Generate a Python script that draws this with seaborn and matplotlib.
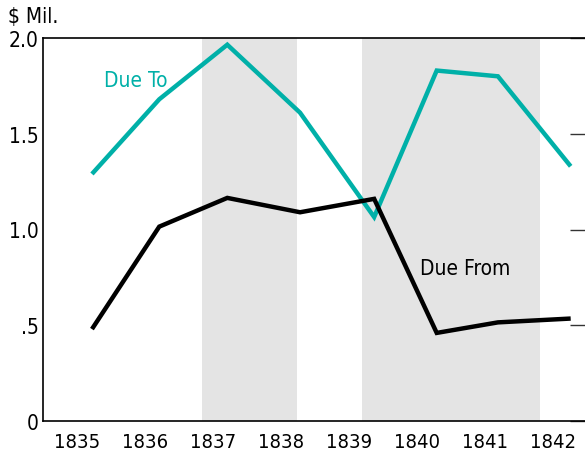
import matplotlib
matplotlib.use("Agg")
import matplotlib.pyplot as plt
import seaborn as sns
import pandas as pd
from matplotlib.ticker import FixedLocator, NullFormatter

# reporting dates (fraction of year) and values in $ millions
dates = [1835.72, 1836.71, 1837.71, 1838.78, 1839.87, 1840.79, 1841.69, 1842.76]
due_to = [1.29, 1.68, 1.965, 1.61, 1.065, 1.83, 1.80, 1.33]
due_from = [0.48, 1.015, 1.165, 1.09, 1.16, 0.46, 0.515, 0.535]

years = [1835, 1836, 1837, 1838, 1839, 1840, 1841, 1842]
shaded = [(1837.34, 1838.74), (1839.69, 1842.31)]
yticks = [0, 0.5, 1.0, 1.5, 2.0]
ylabels = ["0", ".5", "1.0", "1.5", "2.0"]

TEAL = "#00b0a8"

sns.set_style("white")
plt.rcParams["font.family"] = ["DejaVu Sans"]
plt.rcParams["font.stretch"] = "condensed"
plt.rcParams["text.color"] = "black"
plt.rcParams["xtick.color"] = "black"
plt.rcParams["ytick.color"] = "black"

df = pd.DataFrame({"date": dates * 2,
                   "value": due_to + due_from,
                   "series": ["Due To"] * len(dates) + ["Due From"] * len(dates)})

fig = plt.figure(figsize=(5.85, 4.56), dpi=100)
ax = fig.add_axes([43 / 585, 34 / 456, 544 / 585, 383 / 456])

for a, b in shaded:
    ax.axvspan(a, b, color="#e4e4e4", lw=0, zorder=0)

sns.lineplot(data=df, x="date", y="value", hue="series",
             palette={"Due To": TEAL, "Due From": "black"},
             lw=3.2, legend=False, ax=ax, sort=False)
for line in ax.get_lines():
    line.set_solid_joinstyle("miter")
    line.set_solid_capstyle("butt")

ax.set_xlim(1835, 1843)
ax.set_ylim(0, 2.0)
ax.set_xlabel("")
ax.set_ylabel("")

# year labels sit between the tick marks
ax.xaxis.set_major_locator(FixedLocator(years[1:]))
ax.xaxis.set_major_formatter(NullFormatter())
ax.xaxis.set_minor_locator(FixedLocator([y + 0.5 for y in years]))
ax.set_xticklabels([str(y) for y in years], minor=True)
ax.tick_params(axis="x", which="major", direction="in", length=10, width=1, color="#222222")
ax.tick_params(axis="x", which="minor", length=0, pad=8, labelsize=14.5)

ax.set_yticks(yticks)
ax.set_yticklabels(ylabels)
ax.tick_params(axis="y", which="major", direction="in", length=12, width=1,
               color="#333333", labelsize=15, pad=3, right=True)

for side in ["left", "bottom", "top"]:
    ax.spines[side].set_color("black")
    ax.spines[side].set_linewidth(1.2)
ax.spines["right"].set_visible(False)

ax.text(1835.9, 1.78, "Due To", color=TEAL, fontsize=15, va="center")
ax.text(1840.55, 0.8, "Due From", color="black", fontsize=15, va="center")
fig.text(8 / 585, 1 - 17 / 456, "$ Mil.", fontsize=15, va="center", ha="left")

fig.savefig("out.png", dpi=100)
